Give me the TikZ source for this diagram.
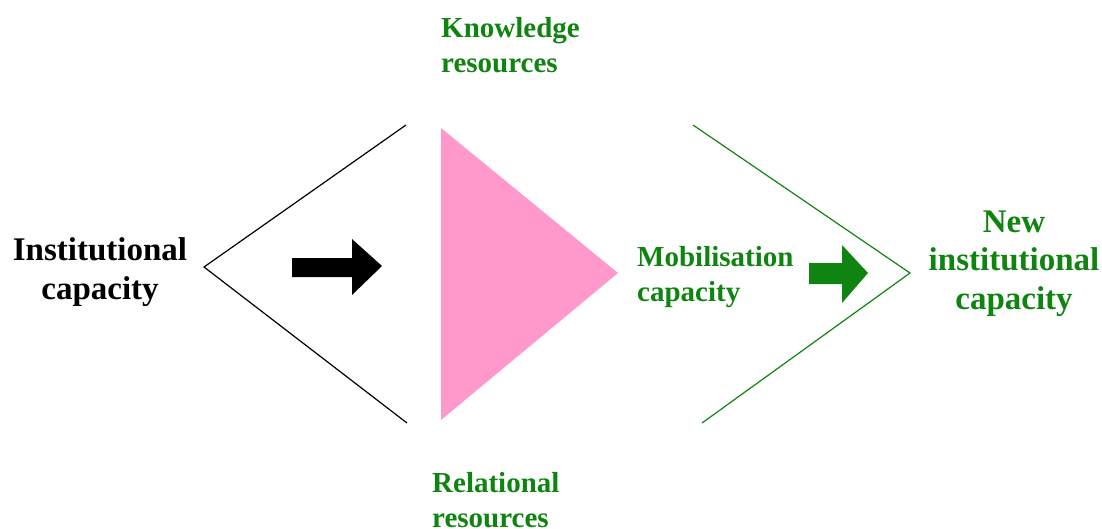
\documentclass[tikz,border=0pt]{standalone}
\usepackage{fontspec}
\setmainfont{Liberation Serif}
\definecolor{dgreen}{RGB}{16,132,16}
\definecolor{pinkfill}{RGB}{255,153,204}
\begin{document}
\begin{tikzpicture}[x=1pt,y=-1pt,
  bigtxt/.style={font=\bfseries\fontsize{33}{38.5}\selectfont, inner sep=0pt},
  smalltxt/.style={font=\bfseries\fontsize{29}{35}\selectfont, inner sep=0pt, text=dgreen},
  chev/.style={line width=1.2pt}]
\useasboundingbox (0,0) rectangle (1102,528);
% texts (anchor = baseline of last line)
\node[bigtxt, align=center, anchor=base] (inst) at (100,299) {Institutional\\capacity};
\node[smalltxt, align=left, anchor=base west] (know) at (441,72) {Knowledge\\resources};
\node[smalltxt, align=left, anchor=base west] (mob) at (637,301) {Mobilisation\\capacity};
\node[smalltxt, align=left, anchor=base west] (rel) at (432,527) {Relational\\resources};
\node[bigtxt, align=center, anchor=base, text=dgreen] (newinst) at (1014,309) {New\\institutional\\capacity};
% black chevron
\coordinate (bt) at (406,125);
\coordinate (bv) at (204,267);
\coordinate (bb) at (407,423);
\draw[chev, black] (bt) -- (bv) -- (bb);
% pink triangle
\coordinate (pt) at (441,128);
\coordinate (pv) at (618,273);
\coordinate (pb) at (441,420);
\fill[pinkfill] (pt) -- (pv) -- (pb) -- cycle;
% green chevron
\coordinate (gt) at (693,125);
\coordinate (gv) at (910,273);
\coordinate (gb) at (702,423);
\draw[chev, dgreen] (gt) -- (gv) -- (gb);
% black block arrow
\fill[black] (292,258) -- (352,258) -- (352,239) -- (382,266) -- (352,295) -- (352,277) -- (292,277) -- cycle;
% green block arrow
\fill[dgreen] (809,263) -- (842,263) -- (842,245) -- (868,273) -- (842,303) -- (842,284) -- (809,284) -- cycle;
\end{tikzpicture}
\end{document}
